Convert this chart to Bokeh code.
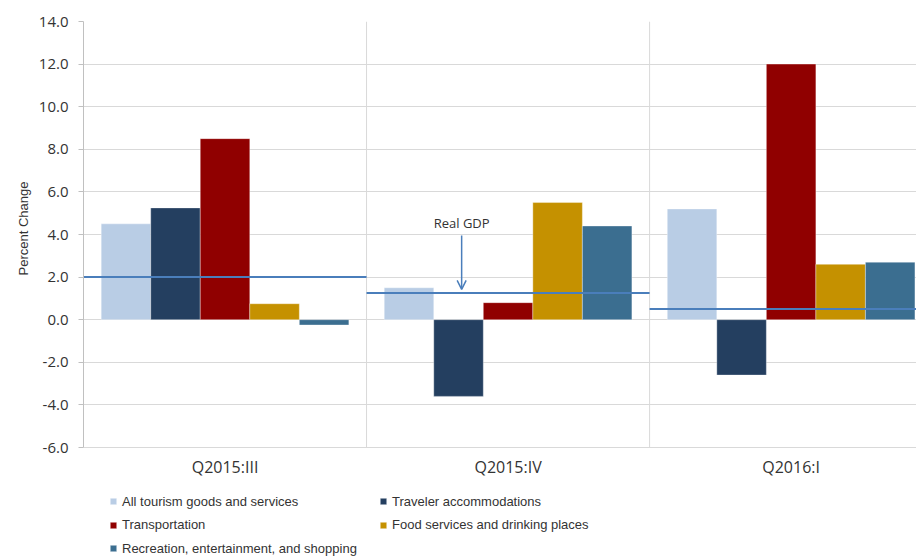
from bokeh.plotting import figure
from bokeh.models import (FixedTicker, NumeralTickFormatter, Legend, LegendItem,
                          Arrow, OpenHead, Label, Range1d, Title)
from bokeh.core.properties import value
from bokeh.embed import file_html
from bokeh.resources import INLINE

# ---------------- data ----------------
quarters = ["Q2015:III", "Q2015:IV", "Q2016:I"]
series_names = [
    "All tourism goods and services",
    "Traveler accommodations",
    "Transportation",
    "Food services and drinking places",
    "Recreation, entertainment, and shopping",
]
all_tourism = [4.5, 1.5, 5.2]
traveler_accommodations = [5.25, -3.6, -2.6]
transportation = [8.5, 0.8, 12.0]
food_services = [0.75, 5.5, 2.6]
recreation = [-0.25, 4.4, 2.7]
real_gdp = [2.0, 1.25, 0.5]
y_ticks = [-6, -4, -2, 0, 2, 4, 6, 8, 10, 12, 14]

series_values = [all_tourism, traveler_accommodations, transportation,
                 food_services, recreation]
colors = ["#b9cde5", "#243f60", "#900000", "#c59100", "#3b6e90"]
gdp_color = "#4a7ebb"
grid_color = "#d9d9d9"
axis_color = "#c0c0c0"
text_color = "#333333"

y_lo, y_hi = y_ticks[0], y_ticks[-1]
# the frame extends below the value axis to host the legend
px_per_unit = 21.3
frame_h = 556 - 21
y_start = y_hi - frame_h / px_per_unit

# ---------------- figure ----------------
p = figure(width=916, height=556, output_backend="svg", toolbar_location=None,
           x_range=Range1d(0, 2.943), y_range=Range1d(y_start, y_hi),
           min_border_left=83, min_border_right=0, min_border_top=21,
           min_border_bottom=0)
p.outline_line_color = None
p.background_fill_color = "white"
p.border_fill_color = "white"
p.xaxis.visible = False

# grids
p.xgrid.grid_line_color = None
p.ygrid.ticker = FixedTicker(ticks=y_ticks)
p.ygrid.grid_line_color = grid_color
p.ygrid.grid_line_width = 1
bounds_x = list(range(1, len(quarters)))
p.segment(x0=bounds_x, x1=bounds_x, y0=[y_lo] * len(bounds_x),
          y1=[y_hi] * len(bounds_x), line_color=grid_color, line_width=1)

# y axis
ya = p.yaxis[0]
ya.bounds = (y_lo, y_hi)
ya.ticker = FixedTicker(ticks=y_ticks)
ya.formatter = NumeralTickFormatter(format="0.0")
ya.axis_line_color = axis_color
ya.major_tick_line_color = axis_color
ya.major_tick_out = 5
ya.major_tick_in = 0
ya.minor_tick_line_color = None
ya.major_label_standoff = 10
ya.major_label_text_font = "Open Sans"
ya.major_label_text_font_size = "15px"
ya.major_label_text_color = text_color

# y axis title, placed along the value axis (offset from the frame bottom)
p.add_layout(Title(text="Percent Change", align="left", offset=281, standoff=10,
                   text_font="Liberation Sans", text_font_size="13px",
                   text_font_style="normal", text_color=text_color), "left")

# category labels under the value axis
p.text(x=[i + 0.5 for i in range(len(quarters))], y=[y_lo] * len(quarters),
       text=quarters, y_offset=19, text_align="center", text_baseline="middle",
       text_font=value("Open Sans"), text_font_size="16px", text_color=text_color)

# ---------------- bars ----------------
n = len(series_values)
group_start = 0.0625
bar_w = (1 - 2 * group_start) / n
renderers = []
for k, (vals, col) in enumerate(zip(series_values, colors)):
    xs = [i + group_start + bar_w * (k + 0.5) for i in range(len(quarters))]
    r = p.vbar(x=xs, top=vals, bottom=0, width=bar_w, fill_color=col,
               line_color="white", line_alpha=0.35, line_width=1)
    renderers.append(r)

# ---------------- Real GDP ----------------
p.segment(x0=[i for i in range(len(quarters))],
          x1=[i + 1 for i in range(len(quarters))],
          y0=real_gdp, y1=real_gdp, line_color=gdp_color, line_width=2)

ann_x = 1.336
p.add_layout(Arrow(end=OpenHead(size=9, line_color=gdp_color, line_width=1.5),
                   x_start=ann_x, x_end=ann_x,
                   y_start=real_gdp[1] + 2.7, y_end=real_gdp[1] + 0.17,
                   line_color=gdp_color, line_width=1.5))
p.add_layout(Label(x=ann_x, y=real_gdp[1] + 3.31, text="Real GDP",
                   text_align="center", text_baseline="middle",
                   text_font="Open Sans", text_font_size="13px",
                   text_color=text_color))

# ---------------- legend (three rows, two columns) ----------------
legend_rows = [[0, 1], [2, 3], [4]]
row_y = [47, 23.5, 0]
for row, ly in zip(legend_rows, row_y):
    items = [LegendItem(label=series_names[k], renderers=[renderers[k]]) for k in row]
    leg = Legend(items=items, orientation="horizontal", location=(26, ly),
                 glyph_width=8, glyph_height=8, label_standoff=5,
                 label_width=257, label_height=16, spacing=0, padding=0,
                 margin=0, border_line_color=None, background_fill_alpha=0,
                 label_text_font="Liberation Sans",
                 label_text_font_size="13px", label_text_color=text_color)
    p.add_layout(leg, "center")

open("out.html", "w").write(file_html(p, INLINE))
